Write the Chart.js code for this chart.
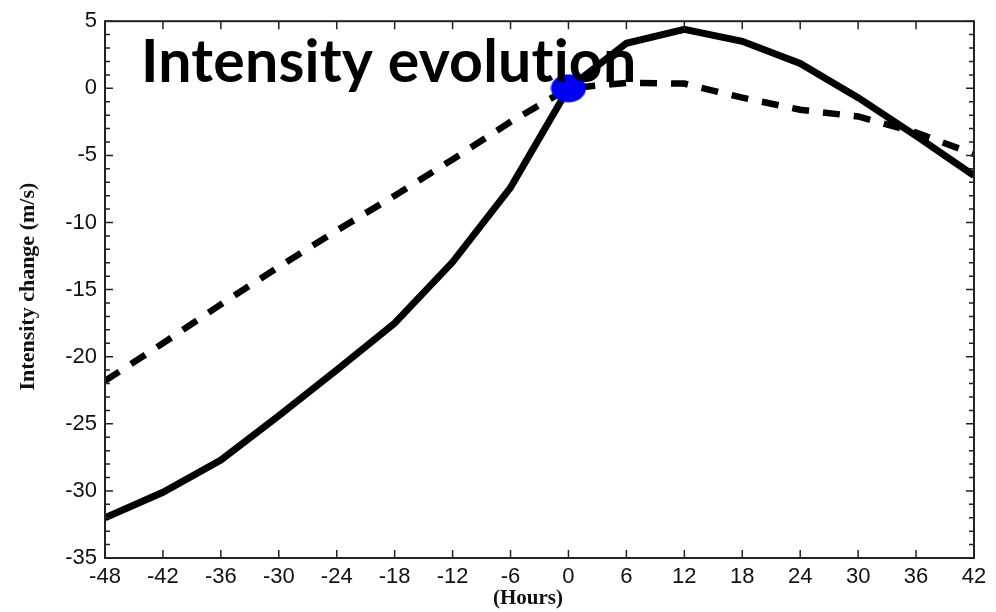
<!DOCTYPE html>
<html>
<head>
<meta charset="utf-8">
<script src="https://cdn.jsdelivr.net/npm/chart.js@4.4.1/dist/chart.umd.min.js"></script>
<style>
  html, body { margin: 0; padding: 0; background: #fff; }
  #wrap { width: 996px; height: 612px; position: relative; }
</style>
</head>
<body>
<div id="wrap"><canvas id="chart" width="996" height="612"></canvas></div>
<script>
const hours = [-48, -42, -36, -30, -24, -18, -12, -6, 0, 6, 12, 18, 24, 30, 36, 42];
const solidChange = [-32.0, -30.1, -27.7, -24.4, -21.0, -17.5, -12.95, -7.4, 0.0, 3.35, 4.4, 3.5, 1.85, -0.7, -3.55, -6.5];
const dashedChange = [-21.8, -19.0, -16.1, -13.3, -10.6, -8.0, -5.3, -2.5, 0.0, 0.4, 0.35, -0.7, -1.6, -2.1, -3.3, -4.9];
const markerPoint = [{ x: 0, y: 0 }];
const xTicks = [-48, -42, -36, -30, -24, -18, -12, -6, 0, 6, 12, 18, 24, 30, 36, 42];
const yTicks = [5, 0, -5, -10, -15, -20, -25, -30, -35];

const titleText = 'Intensity evolution';
const yTitle = 'Intensity change (m/s)';
const xTitle = '(Hours)';

// blue ellipse used as the marker style
const dot = document.createElement('canvas');
dot.width = 36; dot.height = 29;
const dctx = dot.getContext('2d');
dctx.fillStyle = '#0000f5';
dctx.beginPath();
dctx.ellipse(18, 14.5, 17.5, 14, 0, 0, Math.PI * 2);
dctx.fill();

const frame = {
  id: 'frame',
  afterDatasetsDraw(chart) {
    const { ctx, chartArea: a, scales: { x, y } } = chart;
    ctx.save();
    ctx.strokeStyle = '#222';
    ctx.lineWidth = 2;
    ctx.strokeRect(a.left, a.top, a.right - a.left, a.bottom - a.top);
    ctx.lineWidth = 1.5;
    ctx.beginPath();
    for (let v = -35; v <= 5; v++) {
      const py = y.getPixelForValue(v);
      const len = v % 5 === 0 ? 8 : 5;
      ctx.moveTo(a.left, py); ctx.lineTo(a.left + len, py);
      ctx.moveTo(a.right, py); ctx.lineTo(a.right - len, py);
    }
    xTicks.forEach(v => {
      const px = x.getPixelForValue(v);
      ctx.moveTo(px, a.bottom); ctx.lineTo(px, a.bottom - 8);
      ctx.moveTo(px, a.top); ctx.lineTo(px, a.top + 8);
    });
    ctx.stroke();

    // axis titles
    ctx.fillStyle = '#111';
    ctx.textAlign = 'center';
    ctx.textBaseline = 'middle';
    ctx.font = 'bold 21px "Liberation Serif", "DejaVu Serif", serif';
    ctx.fillText(xTitle, 528, 599);
    ctx.font = 'bold 22px "Liberation Serif", "DejaVu Serif", serif';
    ctx.translate(28, (a.top + a.bottom) / 2 - 3);
    ctx.rotate(-Math.PI / 2);
    ctx.fillText(yTitle, 0, 0);
    ctx.restore();
  },
  afterDraw(chart) {
    const ctx = chart.ctx;
    ctx.save();
    ctx.fillStyle = '#000';
    ctx.font = 'bold 59px Lato, "Open Sans", sans-serif';
    ctx.letterSpacing = '0.2px';
    ctx.textAlign = 'left';
    ctx.textBaseline = 'alphabetic';
    ctx.fillText(titleText, 141, 82);
    ctx.restore();
  }
};

new Chart(document.getElementById('chart'), {
  type: 'line',
  data: {
    datasets: [
      {
        type: 'scatter',
        label: 'Time 0',
        data: markerPoint,
        pointStyle: dot,
        pointRadius: 17,
        order: 0
      },
      {
        label: 'Solid',
        data: hours.map((h, i) => ({ x: h, y: solidChange[i] })),
        borderColor: '#000',
        borderWidth: 7,
        pointRadius: 0,
        tension: 0,
        borderJoinStyle: 'miter',
        order: 1
      },
      {
        label: 'Dashed',
        data: hours.map((h, i) => ({ x: h, y: dashedChange[i] })),
        borderColor: '#000',
        borderWidth: 6.5,
        borderDash: [17, 14],
        pointRadius: 0,
        tension: 0,
        order: 2
      }
    ]
  },
  options: {
    responsive: false,
    animation: false,
    devicePixelRatio: 1,
    layout: { padding: { top: 18, right: 22, left: 0, bottom: 0 } },
    plugins: { legend: { display: false }, tooltip: { enabled: false } },
    scales: {
      x: {
        type: 'linear',
        min: -48,
        max: 42,
        grid: { display: false, drawTicks: false },
        border: { display: false },
        afterBuildTicks: s => { s.ticks = xTicks.map(v => ({ value: v })); },
        ticks: {
          color: '#111',
          font: { family: '"Liberation Sans", Arial, sans-serif', size: 22 },
          padding: 6,
          maxRotation: 0,
          autoSkip: false
        },
        afterFit: s => { s.height = 54; }
      },
      y: {
        min: -35,
        max: 5,
        grid: { display: false, drawTicks: false },
        border: { display: false },
        afterBuildTicks: s => { s.ticks = yTicks.map(v => ({ value: v })); },
        ticks: {
          color: '#111',
          font: { family: '"Liberation Sans", Arial, sans-serif', size: 22 },
          padding: 8,
          autoSkip: false
        },
        afterFit: s => { s.width = 105; }
      }
    }
  },
  plugins: [frame]
});
</script>
</body>
</html>
